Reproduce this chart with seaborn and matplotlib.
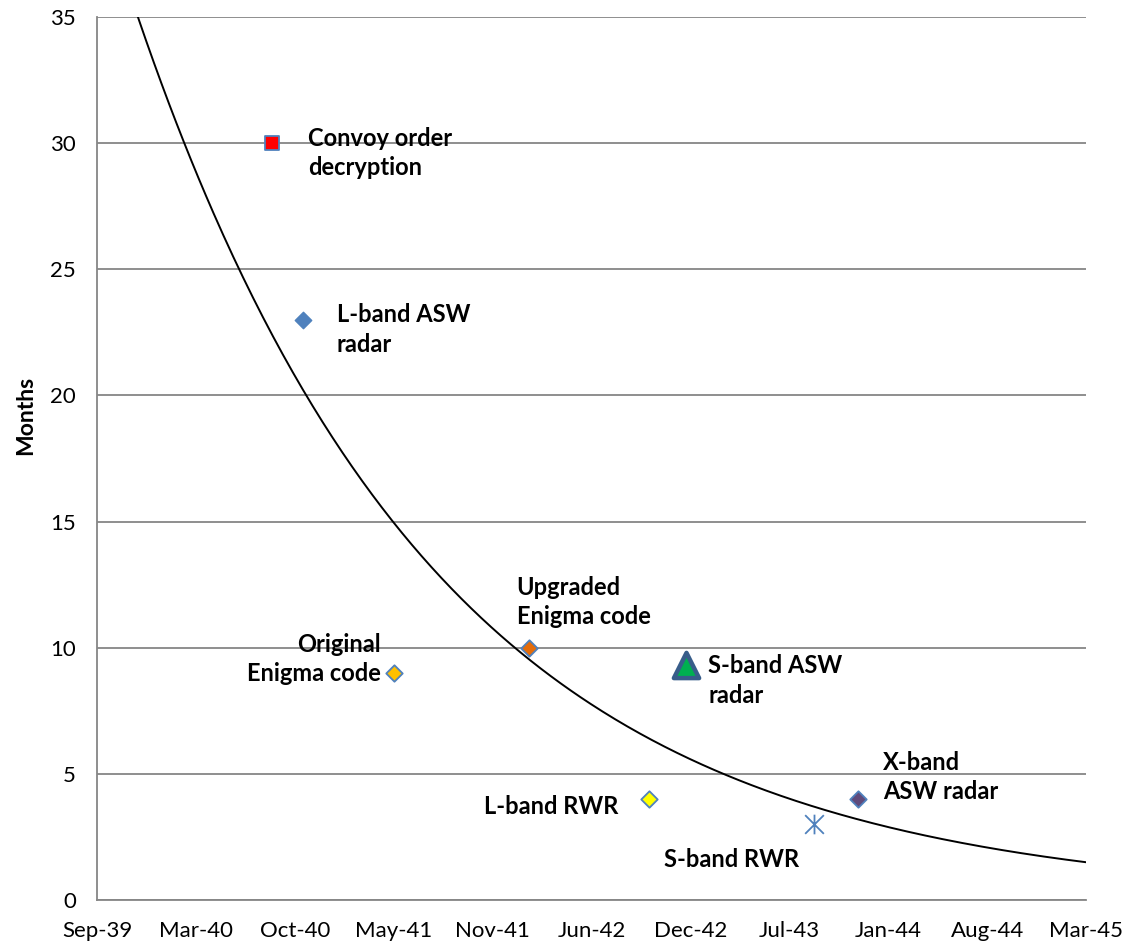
import numpy as np
import pandas as pd
import matplotlib
matplotlib.use("Agg")
import matplotlib.pyplot as plt
import matplotlib.dates as mdates
from matplotlib.path import Path
import seaborn as sns

# ---- data ----
labels = ["Convoy order\ndecryption", "L-band ASW\nradar", "Original\nEnigma code",
          "Upgraded\nEnigma code", "S-band ASW\nradar", "L-band RWR",
          "S-band RWR", "X-band\nASW radar"]
dates = ["1940-08-31", "1940-11-02", "1941-05-04", "1942-02-02",
         "1942-12-16", "1942-10-02", "1943-09-01", "1943-11-29"]
months = [30, 23, 9, 10, 9.3, 4, 3, 4]

x_ticks_start = "1939-09-12"
tick_step_days = 200
n_ticks = 11
y_ticks = [0, 5, 10, 15, 20, 25, 30, 35]

# ---- styles ----
star = Path([(0, -1), (0, 1), (-0.95, -0.95), (0.95, 0.95), (-0.95, 0.95), (0.95, -0.95)],
            [Path.MOVETO, Path.LINETO, Path.MOVETO, Path.LINETO, Path.MOVETO, Path.LINETO])
marker_styles = [
    dict(marker="s", s=110, color="#FF0000", edgecolor="#4F81BD", linewidth=1.3),
    dict(marker="D", s=70, color="#4F81BD", edgecolor="#4F81BD", linewidth=1.0),
    dict(marker="D", s=70, color="#FFC000", edgecolor="#4F81BD", linewidth=1.3),
    dict(marker="D", s=70, color="#E46C0A", edgecolor="#4F81BD", linewidth=1.3),
    dict(marker="^", s=330, color="#00B050", edgecolor="#385D8A", linewidth=3.2),
    dict(marker="D", s=70, color="#FFFF00", edgecolor="#4F81BD", linewidth=1.3),
    dict(marker=star, s=200, color="#4F81BD", edgecolor="#4F81BD", linewidth=1.3),
    dict(marker="D", s=70, color="#604A7B", edgecolor="#4F81BD", linewidth=1.3),
]
# label offsets in points and alignment
offsets = [(26, -7), (24, -7), (-9, 10), (-9, 33), (16, -11), (-22, -5), (-108, -25), (18, 16)]
aligns = ["left", "left", "right", "left", "left", "right", "left", "left"]

df = pd.DataFrame({"date": pd.to_datetime(dates), "months": months, "label": labels})

sns.set_theme(style="white")
plt.rcParams["font.family"] = ["Lato", "DejaVu Sans"]

fig = plt.figure(figsize=(11.41, 9.5), dpi=100)
ax = fig.add_axes([0.085, 0.0526, 0.8668, 0.9295])

start = pd.Timestamp(x_ticks_start)
ticks = [start + pd.Timedelta(days=tick_step_days * i) for i in range(n_ticks)]

# exponential trendline (least-squares fit in log space)
xnum = mdates.date2num(df["date"])
b, a = np.polyfit(xnum, np.log(df["months"]), 1)
tx = np.linspace(mdates.date2num(ticks[0]), mdates.date2num(ticks[-1]), 400)
trend = pd.DataFrame({"date": mdates.num2date(tx), "months": np.exp(a + b * tx)})
sns.lineplot(data=trend, x="date", y="months", color="black", linewidth=1.4, ax=ax, zorder=3)

for i, row in df.iterrows():
    st = marker_styles[i]
    sns.scatterplot(x=[row["date"]], y=[row["months"]], ax=ax, zorder=4, **st)
    ax.annotate(row["label"], (mdates.date2num(row["date"]), row["months"]),
                xytext=offsets[i], textcoords="offset points",
                ha=aligns[i], va="center", multialignment=aligns[i],
                fontsize=17, fontweight="bold", linespacing=1.35, color="black", zorder=5)

ax.set_xlim(ticks[0], ticks[-1])
ax.set_ylim(0, 35)
ax.set_xticks(ticks)
ax.xaxis.set_major_formatter(mdates.DateFormatter("%b-%y"))
ax.set_yticks(y_ticks)
ax.yaxis.grid(True, color="#868686", linewidth=1.3)
ax.xaxis.grid(False)
for side in ["top", "right"]:
    ax.spines[side].set_visible(False)
for side in ["left", "bottom"]:
    ax.spines[side].set_color("#868686")
    ax.spines[side].set_linewidth(1.3)
ax.tick_params(axis="both", which="major", direction="out", length=6, width=1.3,
               color="#868686", labelsize=16, labelcolor="black")
ax.tick_params(axis="y", pad=9)
ax.tick_params(axis="x", pad=9)
ax.set_xlabel("")
ax.set_ylabel("Months", fontsize=16.5, fontweight="bold", color="black")
ax.yaxis.set_label_coords(-0.062, 0.549)
ax.set_axisbelow(True)

fig.savefig("out.png", dpi=100)
